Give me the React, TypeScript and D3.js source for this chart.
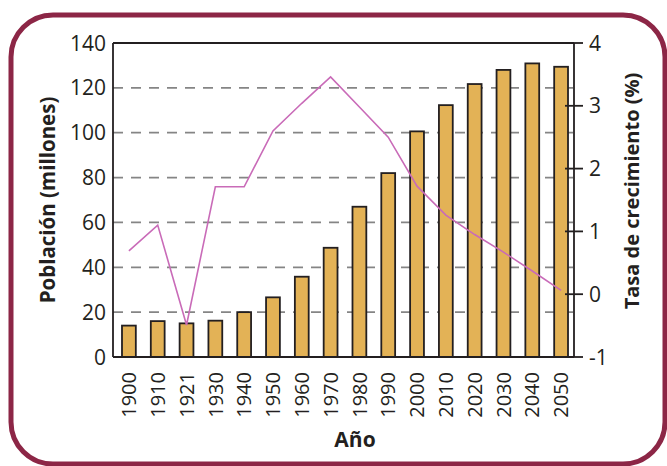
import React from 'react';
import * as d3 from 'd3';

const years = ['1900', '1910', '1921', '1930', '1940', '1950', '1960', '1970', '1980', '1990', '2000', '2010', '2020', '2030', '2040', '2050'];
const population = [14, 16, 15, 16.2, 20, 26.6, 35.8, 48.7, 67, 82, 100.6, 112.3, 121.7, 128, 130.9, 129.4];
const growthRate = [0.69, 1.1, -0.49, 1.71, 1.71, 2.6, 3.04, 3.46, 2.98, 2.5, 1.72, 1.26, 0.95, 0.67, 0.37, 0.06];
const leftTicks = [0, 20, 40, 60, 80, 100, 120, 140];
const gridTicks = [20, 40, 60, 80, 100, 120];
const rightTicks = [-1, 0, 1, 2, 3, 4];

const W = 667;
const H = 466;
const plot = { left: 113, right: 574, top: 43, bottom: 357 };
const textColor = '#231f20';
const font = '"Open Sans", "Noto Sans", sans-serif';

export default function App() {
  const x = d3.scaleBand<string>()
    .domain(years)
    .range([plot.left + 1.5, plot.right + 1.5])
    .paddingInner(0.52)
    .paddingOuter(0.26);
  const y = d3.scaleLinear().domain([0, 140]).range([plot.bottom, plot.top]);
  const yR = d3.scaleLinear().domain([-1, 4]).range([plot.bottom, plot.top]);

  const line = d3.line<number>()
    .x((_, i) => (x(years[i]) as number) + x.bandwidth() / 2)
    .y(d => yR(d));

  return (
    <svg width={W} height={H} style={{ position: 'absolute', left: 0, top: 0 }} fontFamily={font}>
      <rect x={0} y={0} width={W} height={H} fill="#fff" />
      {/* frame */}
      <rect x={11} y={15} width={654} height={449} rx={42} ry={42}
        fill="none" stroke="#8c2646" strokeWidth={5} />

      {/* dashed gridlines */}
      {gridTicks.map(t => (
        <line key={t} x1={plot.left} x2={plot.right} y1={y(t)} y2={y(t)}
          stroke="#858585" strokeWidth={1.7} strokeDasharray="10,8" />
      ))}

      {/* bars */}
      {years.map((yr, i) => (
        <rect key={yr} x={x(yr)} y={y(population[i])} width={x.bandwidth()}
          height={plot.bottom - y(population[i])}
          fill="#e3b256" stroke="#231f20" strokeWidth={1.8} />
      ))}

      {/* growth line */}
      <path d={line(growthRate) || ''} fill="none" stroke="#c96bb8" strokeWidth={1.6} />

      {/* frame of plot */}
      <line x1={plot.left} x2={plot.left} y1={plot.top} y2={plot.bottom} stroke={textColor} strokeWidth={1.8} />
      <line x1={plot.right} x2={plot.right} y1={plot.top} y2={plot.bottom} stroke={textColor} strokeWidth={1.8} />
      <line x1={plot.left} x2={plot.right} y1={plot.top} y2={plot.top} stroke={textColor} strokeWidth={1.8} />
      <line x1={plot.left} x2={plot.right} y1={plot.bottom} y2={plot.bottom} stroke={textColor} strokeWidth={1.8} />

      {/* left ticks */}
      {leftTicks.map(t => (
        <text key={t} x={106} y={y(t)} dy="0.36em" textAnchor="end" fontSize={21} fill={textColor}>{t}</text>
      ))}

      {/* right ticks */}
      {rightTicks.map(t => (
        <g key={t}>
          <line x1={plot.right - 9} x2={plot.right + 9} y1={yR(t)} y2={yR(t)} stroke={textColor} strokeWidth={1.8} />
          <text x={589} y={yR(t)} dy="0.36em" fontSize={21} fill={textColor}>{t}</text>
        </g>
      ))}

      {/* x labels */}
      {years.map(yr => {
        const cx = (x(yr) as number) + x.bandwidth() / 2;
        return (
          <text key={yr} transform={`translate(${cx},372) rotate(-90)`} dy="0.36em"
            textAnchor="end" fontSize={20} fill={textColor}>{yr}</text>
        );
      })}

      {/* axis titles */}
      <text x={355} y={447} textAnchor="middle" fontSize={21} fontWeight="bold" fill={textColor}>Año</text>
      <text transform="translate(48,200) rotate(-90)" dy="0.35em" textAnchor="middle"
        fontSize={20.5} fontWeight="bold" fill={textColor}>Población (millones)</text>
      <text transform="translate(632,191) rotate(-90)" dy="0.35em" textAnchor="middle"
        fontSize={20} fontWeight="bold" fill={textColor}>Tasa de crecimiento (%)</text>
    </svg>
  );
}
